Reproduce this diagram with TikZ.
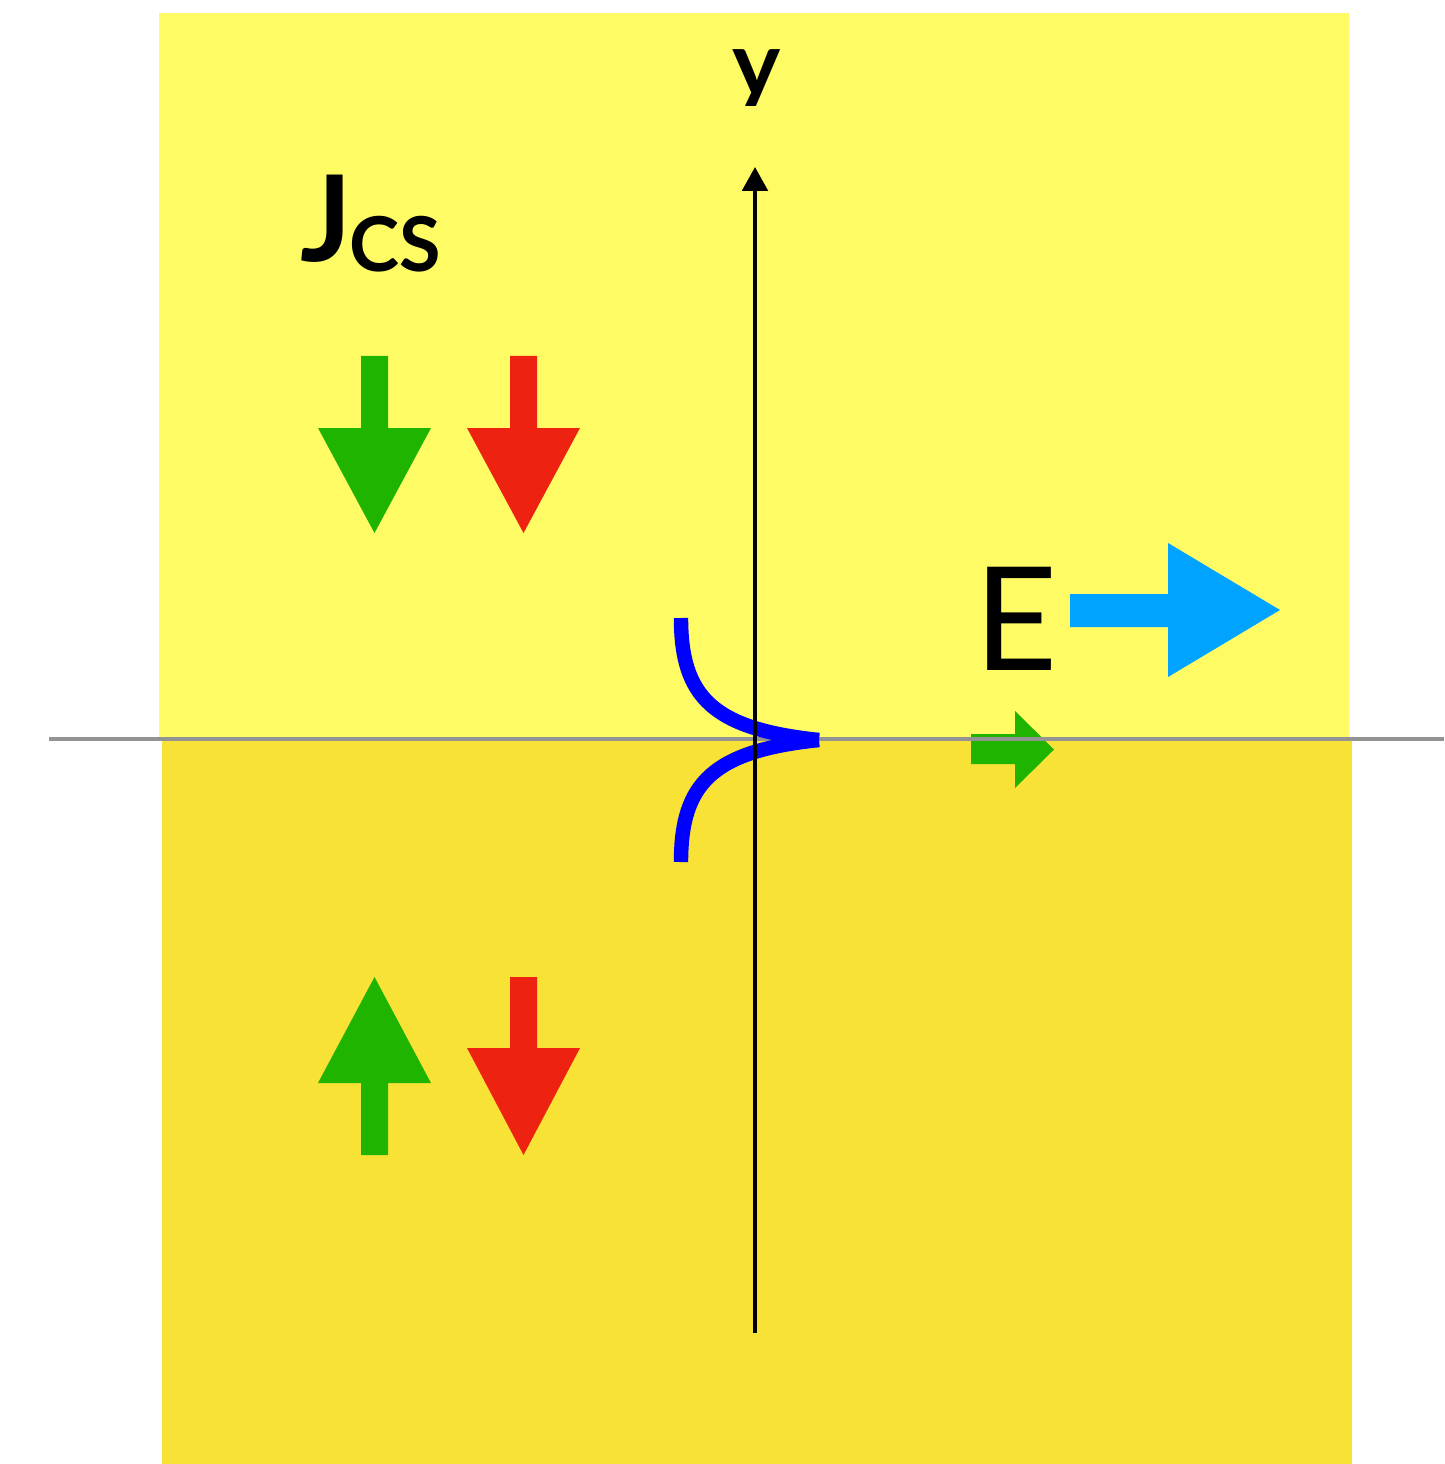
\documentclass[tikz,border=0pt]{standalone}
\usepackage{fontspec}
\setmainfont{Lato}
\usetikzlibrary{arrows.meta}
\definecolor{topyellow}{RGB}{254,251,100}
\definecolor{botyellow}{RGB}{248,226,54}
\definecolor{arrgreen}{RGB}{31,180,0}
\definecolor{arrred}{RGB}{238,34,17}
\definecolor{arrblue}{RGB}{0,163,255}
\definecolor{curveblue}{RGB}{0,0,255}
\definecolor{divgray}{RGB}{147,147,147}
\tikzset{
  fatgreen/.style={fill=arrgreen},
  fatred/.style={fill=arrred},
  fatblue/.style={fill=arrblue},
  axisline/.style={draw=black,line width=1.15pt,-{Triangle[length=6.8pt,width=7.2pt]}},
  divline/.style={draw=divgray,line width=1.4pt},
  wave/.style={draw=curveblue,line width=4.1pt,line cap=butt},
  lbl/.style={inner sep=0pt,outer sep=0pt,text=black}
}
\begin{document}
\begin{tikzpicture}[x=0.01cm,y=-0.01cm]
\useasboundingbox (0,0) rectangle (1444,1464);
% backgrounds
\fill[white] (0,0) rectangle (1444,1464);
\fill[topyellow] (159,13) rectangle (1349,739);
\fill[botyellow] (162,739) rectangle (1352,1464);
% small green arrow (under the divider)
\fill[fatgreen] (971,734) -- (1015,734) -- (1015,711) -- (1054,749.5) -- (1015,788) -- (1015,764) -- (971,764) -- cycle;
% divider line
\coordinate (divL) at (49,739);
\coordinate (divR) at (1444,739);
\draw[divline] (divL) -- (divR);
% blue curves
\coordinate (cTop) at (681,618);
\coordinate (cTip) at (819,740);
\coordinate (cBot) at (681,862);
\draw[wave] (cTop) .. controls (681,697) and (713,729) .. (cTip);
\draw[wave] (cBot) .. controls (681,783) and (713,751) .. (cTip);
% vertical axis
\coordinate (ybot) at (755,1333);
\coordinate (ytop) at (755,167);
\draw[axisline] (ybot) -- (ytop);
\begin{scope}
\clip (700,30) rectangle (820,106);
\node[lbl,anchor=base] (ylabel) at (757,97) {\fontsize{26}{32}\selectfont\bfseries y};
\end{scope}
% J_CS label
\node[lbl,anchor=base west] (jcs) at (300,262) {\fontsize{34}{40}\selectfont\bfseries J\kern-0.5pt\raisebox{-2.8pt}{\fontsize{21.5}{26}\selectfont\bfseries CS}};
% top arrows
\fill[fatgreen] (361,356) -- (388,356) -- (388,428) -- (431,428) -- (374.5,533) -- (318,428) -- (361,428) -- cycle;
\fill[fatred] (510,356) -- (537,356) -- (537,428) -- (580,428) -- (523.5,533) -- (467,428) -- (510,428) -- cycle;
% bottom arrows
\fill[fatgreen] (361,1155) -- (388,1155) -- (388,1083) -- (431,1083) -- (374.5,977) -- (318,1083) -- (361,1083) -- cycle;
\fill[fatred] (510,977) -- (537,977) -- (537,1048) -- (580,1048) -- (523.5,1155) -- (467,1048) -- (510,1048) -- cycle;
% E label and arrow
\node[lbl,anchor=base] (elabel) at (1016,670) {\fontsize{41}{48}\selectfont E};
\fill[fatblue] (1070,594) -- (1168,594) -- (1168,543) -- (1280,610) -- (1168,677) -- (1168,627) -- (1070,627) -- cycle;
\end{tikzpicture}
\end{document}
